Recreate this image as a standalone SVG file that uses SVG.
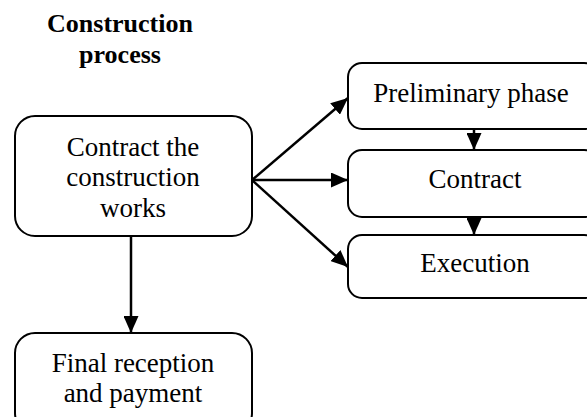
<svg xmlns="http://www.w3.org/2000/svg" width="587" height="417" viewBox="0 0 587 417">
  <style>
    .box { fill: #ffffff; stroke: #000000; stroke-width: 2; }
    .edge { fill: none; stroke: #000000; stroke-width: 2.5; }
  </style>
  <defs>
    <marker id="arrow" viewBox="0 0 17 15" refX="17" refY="7.5" markerWidth="17" markerHeight="15" markerUnits="userSpaceOnUse" orient="auto">
      <path d="M0,0 L17,7.5 L0,15 Z" fill="#000000"/>
    </marker>
  </defs>

  <g font-family="'Liberation Serif', serif" font-size="27" fill="#000000" text-anchor="middle">
    <g id="title" font-weight="bold" font-size="26">
      <text x="120" y="32">Construction</text>
      <text x="120" y="63">process</text>
    </g>

    <g id="contract-works">
      <rect class="box" x="15" y="116" width="237" height="120" rx="20" ry="20"/>
      <text x="133" y="156">Contract the</text>
      <text x="133" y="186">construction</text>
      <text x="133" y="217">works</text>
    </g>

    <g id="final-reception">
      <rect class="box" x="15" y="333" width="237" height="100" rx="20" ry="20"/>
      <text x="133" y="372">Final reception</text>
      <text x="133" y="402">and payment</text>
    </g>

    <g id="preliminary">
      <rect class="box" x="348" y="63" width="250" height="66" rx="14" ry="14"/>
      <text x="471" y="102">Preliminary phase</text>
    </g>

    <g id="contract">
      <rect class="box" x="348" y="150" width="250" height="67" rx="14" ry="14"/>
      <text x="475" y="188">Contract</text>
    </g>

    <g id="execution">
      <rect class="box" x="348" y="235" width="250" height="63" rx="14" ry="14"/>
      <text x="475" y="272">Execution</text>
    </g>
  </g>

  <g id="connectors">
    <line class="edge" x1="252" y1="180" x2="348" y2="98" marker-end="url(#arrow)"/>
    <line class="edge" x1="252" y1="180" x2="348" y2="180" marker-end="url(#arrow)"/>
    <line class="edge" x1="252" y1="180" x2="348" y2="267" marker-end="url(#arrow)"/>
    <line class="edge" x1="131" y1="236" x2="131" y2="333" marker-end="url(#arrow)"/>
    <line class="edge" x1="474" y1="129" x2="474" y2="150" marker-end="url(#arrow)"/>
    <line class="edge" x1="474" y1="217" x2="474" y2="235" marker-end="url(#arrow)"/>
  </g>
</svg>
